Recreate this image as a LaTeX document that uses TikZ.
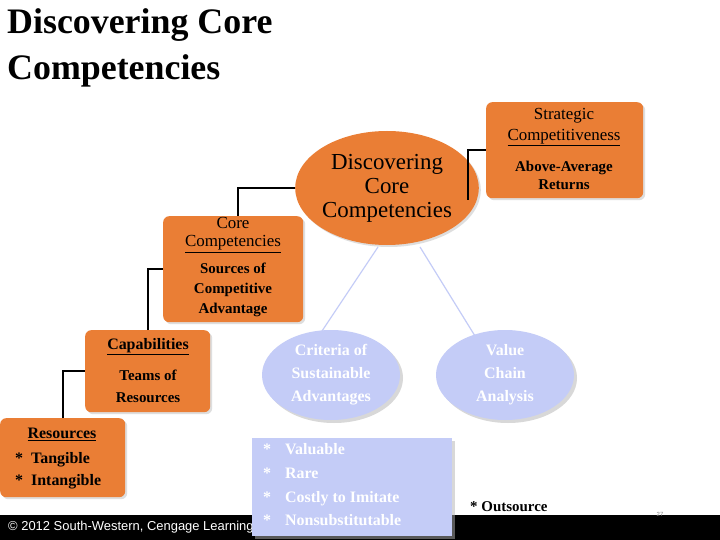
\documentclass[tikz,border=0pt]{standalone}
\usepackage{fontspec}
\setmainfont{Liberation Serif}
\newfontfamily\sansf{Liberation Sans}
\usetikzlibrary{shapes.geometric,shadows}
\definecolor{org}{HTML}{EA7E35}
\definecolor{lblue}{HTML}{C4CCF7}
\tikzset{
 obox/.style={draw=none,fill=org,rounded corners=6bp,drop shadow={fill=gray!50,shadow xshift=2bp,shadow yshift=-2bp},font=\bfseries\fontsize{15}{16}\selectfont,align=center,inner sep=0},
 oell/.style={ellipse,fill=org,draw=none,drop shadow={fill=gray!50,shadow xshift=2bp,shadow yshift=-2bp},align=center,inner sep=0},
 bell/.style={ellipse,fill=lblue,draw=none,drop shadow={fill=gray!60,shadow xshift=3bp,shadow yshift=-3bp},align=center,text=white,font=\bfseries\fontsize{16}{23}\selectfont,minimum width=138bp,minimum height=90bp,inner sep=0},
 conn/.style={line width=1.8bp,black},
 bconn/.style={line width=1.2bp,lblue},
}
\begin{document}
\begin{tikzpicture}[x=1bp,y=-1bp]
\useasboundingbox (0,0) rectangle (720,540);
\fill[white] (0,0) rectangle (720,540);
\node[anchor=north west,align=left,inner sep=0,font=\bfseries\fontsize{36}{47}\selectfont] (title) at (7,8) {Discovering Core\\Competencies};
% black bar
\fill[black] (0,515) rectangle (720,540);
\node[anchor=west,text=white,font=\sansf\fontsize{13}{14}\selectfont,inner sep=0] (copy) at (8,527) {\textcopyright\ 2012 South-Western, Cengage Learning,};
% boxes
\node[obox,minimum width=125bp,minimum height=79bp,anchor=north west] (res) at (0,418) {};
\node[font=\bfseries\fontsize{16}{20}\selectfont,inner sep=0] (rest) at (62,434) {\underline{Resources}};
\node[font=\bfseries\fontsize{16}{22}\selectfont,align=left,anchor=north west,inner sep=0] (resl) at (15,452) {*\ \ Tangible\\*\ \ Intangible};
\node[obox,minimum width=125bp,minimum height=82bp,anchor=north west] (cap) at (85,330) {};
\node[font=\bfseries\fontsize{16}{20}\selectfont,inner sep=0] (capt) at (148,347) {\underline{Capabilities}};
\node[font=\bfseries\fontsize{15}{22}\selectfont,align=center,inner sep=0] (capl) at (148,386) {Teams of\\Resources};
\node[obox,minimum width=140bp,minimum height=106bp,anchor=north west] (core) at (163,216) {};
\node[font=\fontsize{17}{18}\selectfont,align=center,inner sep=0] (coret) at (233,235) {Core\\\underline{Competencies}};
\node[font=\bfseries\fontsize{15}{20}\selectfont,align=center,inner sep=0] (corel) at (233,290) {Sources of\\Competitive\\Advantage};
\node[obox,minimum width=157bp,minimum height=96bp,anchor=north west] (str) at (486,102) {};
\node[font=\fontsize{17}{21}\selectfont,align=center,inner sep=0] (strt) at (564,127) {Strategic\\\underline{Competitiveness}};
\node[font=\bfseries\fontsize{15}{18}\selectfont,align=center,inner sep=0] (strl) at (564,175) {Above-Average\\Returns};
% blue lines
\draw[bconn] (378,247) -- (322,331);
\draw[bconn] (420,247) -- (475,336);
% central ellipse
\node[oell,minimum width=176bp,minimum height=114bp,font=\fontsize{23}{24}\selectfont] (disc) at (387,188) {Discovering\\Core\\Competencies};
% black connectors
\draw[conn] (res.north west) ++(63,0) |- (cap.west);
\draw[conn] (cap.north west) ++(63,0) |- (core.west);
\draw[conn] (core.north west) ++(75,0) |- (disc.west);
\draw[conn] (468,200) |- (str.west);
% blue ellipses
\node[bell] (crit) at (331,375) {Criteria of\\Sustainable\\Advantages};
\node[bell] (val) at (505,375) {Value\\Chain\\Analysis};
% list box
\node[fill=lblue,minimum width=200bp,minimum height=98bp,anchor=north west,drop shadow={fill=gray!60,shadow xshift=3bp,shadow yshift=-3bp},inner sep=0] (lst) at (252,438) {};
\node[anchor=north west,align=left,text=white,font=\bfseries\fontsize{16}{24}\selectfont,inner sep=0] (lstt) at (263,443) {*\hspace{14bp}Valuable\\*\hspace{14bp}Rare\\*\hspace{14bp}Costly to Imitate\\*\hspace{14bp}Nonsubstitutable};
\node[font=\bfseries\fontsize{15}{16}\selectfont,inner sep=0,anchor=west] (outs) at (470,507) {* Outsource};
\node[font=\sansf\fontsize{6}{7}\selectfont,text=gray,inner sep=0] (pg) at (660,514) {27};
\end{tikzpicture}
\end{document}
